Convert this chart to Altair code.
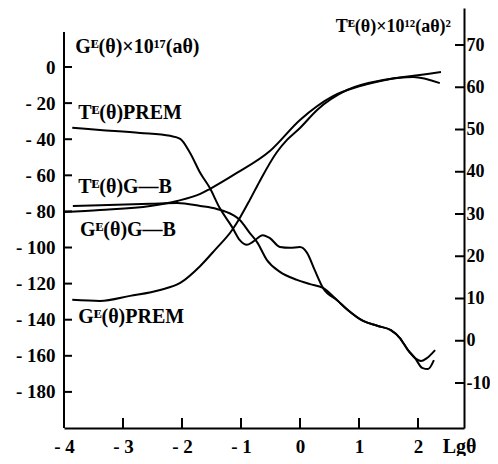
import altair as alt
import pandas as pd

# ---- axis tick values ----
lg_ticks = [-4, -3, -2, -1, 0, 1, 2]
g_ticks = [-180, -160, -140, -120, -100, -80, -60, -40, -20, 0]
t_ticks = [-10, 0, 10, 20, 30, 40, 50, 60, 70]

# ---- G^E curves (left axis, x10^17) ----
gprem_x = [-3.86, -3.39, -2.88, -2.37, -2.03, -1.69, -1.44, -1.15, -1.02, -0.85, -0.68,
           -0.39, -0.22, 0.0, 0.29, 0.80, 1.41, 1.92, 2.37]
gprem_y = [-129.0, -129.6, -126.8, -123.5, -119.6, -110.2, -101.3, -90.3, -83.6, -73.6, -63.1,
           -47.1, -40.4, -33.8, -23.8, -12.7, -7.2, -5.5, -8.9]

ggb_x = [-4.0, -3.39, -2.54, -2.08, -1.69, -1.53, -1.07, -0.51, 0.0, 0.56, 1.02, 1.53, 2.03, 2.39]
ggb_y = [-80.3, -79.2, -77.0, -74.2, -70.3, -67.6, -58.7, -46.5, -29.3, -16.1, -10.5, -6.6, -4.4, -2.8]

# ---- T^E curves (right axis, x10^12) ----
tprem_x = [-3.86, -3.39, -2.71, -2.20, -2.03, -1.86, -1.69, -1.53, -1.36, -1.15, -1.02, -0.90,
           -0.80, -0.63, -0.51, -0.34, -0.17, 0.0, 0.12, 0.25, 0.39, 0.63, 0.81, 1.07, 1.32,
           1.54, 1.69, 1.83, 1.95, 2.07, 2.17, 2.27]
tprem_y = [50.4, 49.9, 49.2, 48.5, 47.8, 44.4, 39.7, 36.2, 31.4, 26.9, 23.8, 22.7,
           23.4, 25.0, 24.3, 22.2, 22.0, 22.2, 20.8, 16.7, 12.5, 9.6, 7.3, 4.7, 3.5,
           2.5, 0.7, -2.2, -4.1, -6.4, -6.7, -4.6]

tgb_x = [-3.85, -3.39, -2.54, -2.08, -1.69, -1.41, -1.14, -1.02, -0.85, -0.73, -0.56, -0.34,
         -0.05, 0.17, 0.39, 0.63, 0.81, 1.07, 1.32, 1.54, 1.69, 1.83, 1.95, 2.05, 2.15, 2.29]
tgb_y = [31.9, 32.1, 32.4, 32.6, 31.9, 31.2, 29.8, 28.6, 25.5, 23.4, 19.1, 16.3,
         14.4, 13.4, 12.5, 9.6, 7.3, 4.7, 3.5, 2.5, 0.7, -2.2, -4.1, -4.8, -4.1, -2.2]

# ---- annotations (anchored in left-axis units) ----
ann_text = ["Gᴱ(θ)×10¹⁷(aθ)", "Tᴱ(θ)PREM", "Tᴱ(θ)G—B", "Gᴱ(θ)G—B", "Gᴱ(θ)PREM"]
ann_x = [-3.81, -3.76, -3.76, -3.73, -3.76]
ann_y = [11.1, -25.5, -66.4, -90.3, -138.4]
rtitle_text = ["Tᴱ(θ)×10¹²(aθ)²"]
rtitle_x = [2.56]
rtitle_y = [22.1]
xlab_text = ["Lgθ"]
xlab_x = [2.42]
xlab_y = [-210.4]


def frame(xs, ys, name):
    return pd.DataFrame({"x": xs, "y": ys, "series": name})


g_df = pd.concat([frame(gprem_x, gprem_y, "G PREM"), frame(ggb_x, ggb_y, "G G-B")])
t_df = pd.concat([frame(tprem_x, tprem_y, "T PREM"), frame(tgb_x, tgb_y, "T G-B")])

FONT = "Times New Roman, Liberation Serif, DejaVu Serif, serif"
NEG = "datum.value < 0 ? '- ' + abs(datum.value) : '' + datum.value"
NEG_R = "datum.value < 0 ? '-' + abs(datum.value) : '' + datum.value"

x_enc = alt.X(
    "x:Q",
    scale=alt.Scale(domain=[-4, 2.78], nice=False, zero=False),
    axis=alt.Axis(values=lg_ticks, ticks=False, grid=False, title=None,
                  domainColor="black", domainWidth=2, labelColor="black",
                  labelFont=FONT, labelFontSize=19, labelFontWeight="bold",
                  labelPadding=9, labelExpr=NEG, labelFlush=False, labelOverlap=False),
)
yl = alt.Y(
    "y:Q",
    scale=alt.Scale(domain=[-200, 32.7], nice=False, zero=False),
    axis=alt.Axis(orient="left", values=g_ticks, ticks=False, domain=False, grid=False,
                  title=None, labelColor="black", labelFont=FONT, labelFontSize=19,
                  labelFontWeight="bold", labelPadding=9, labelExpr=NEG, labelOverlap=False),
)
yr = alt.Y(
    "y:Q",
    scale=alt.Scale(domain=[-20.65, 78.76], nice=False, zero=False),
    axis=alt.Axis(orient="right", values=t_ticks, ticks=False, domain=True, grid=False,
                  domainColor="black", domainWidth=2,
                  title=None, labelColor="black", labelFont=FONT, labelFontSize=18,
                  labelFontWeight="bold", labelPadding=2, labelExpr=NEG_R, labelOverlap=False),
)

g_lines = alt.Chart(g_df).mark_line(color="black", strokeWidth=2, interpolate="monotone").encode(
    x=x_enc, y=yl, detail="series:N")

left_ticks = alt.Chart(pd.DataFrame({"y": g_ticks})).mark_rule(color="black", strokeWidth=2).encode(
    y=yl, x=alt.value(0), x2=alt.value(8))
left_line = alt.Chart(pd.DataFrame({"y": [-200], "y2": [19.4]})).mark_rule(color="black", strokeWidth=2).encode(
    y=yl, y2="y2:Q", x=alt.value(0))
bottom_ticks = alt.Chart(pd.DataFrame({"x": lg_ticks[1:]})).mark_rule(color="black", strokeWidth=2).encode(
    x=x_enc, y=alt.value(410), y2=alt.value(420))

ann = alt.Chart(pd.DataFrame({"x": ann_x, "y": ann_y, "t": ann_text})).mark_text(
    align="left", baseline="middle", font=FONT, fontSize=20, fontWeight="bold", color="black"
).encode(x=x_enc, y=yl, text="t:N")
rtitle = alt.Chart(pd.DataFrame({"x": rtitle_x, "y": rtitle_y, "t": rtitle_text})).mark_text(
    align="right", baseline="middle", font=FONT, fontSize=18, fontWeight="bold", color="black"
).encode(x=x_enc, y=yl, text="t:N")
xlab = alt.Chart(pd.DataFrame({"x": xlab_x, "y": xlab_y, "t": xlab_text})).mark_text(
    align="left", baseline="middle", font=FONT, fontSize=20, fontWeight="bold", color="black"
).encode(x=x_enc, y=yl, text="t:N")

left = alt.layer(g_lines, left_ticks, left_line, bottom_ticks, ann, rtitle, xlab)

t_lines = alt.Chart(t_df).mark_line(color="black", strokeWidth=2, interpolate="monotone").encode(
    x=x_enc, y=yr, detail="series:N")
right_ticks = alt.Chart(pd.DataFrame({"y": t_ticks})).mark_rule(color="black", strokeWidth=2).encode(
    y=yr, x=alt.value(391), x2=alt.value(401))
right = alt.layer(t_lines, right_ticks)

chart = alt.layer(left, right).resolve_scale(y="independent").properties(
    width=400, height=420,
    padding={"left": 56, "top": 0, "right": 26, "bottom": 28},
    autosize=alt.AutoSizeParams(type="none"),
    background="white",
).configure_view(stroke=None)

chart.save("out.html", embed_options={"renderer": "svg", "actions": False})
